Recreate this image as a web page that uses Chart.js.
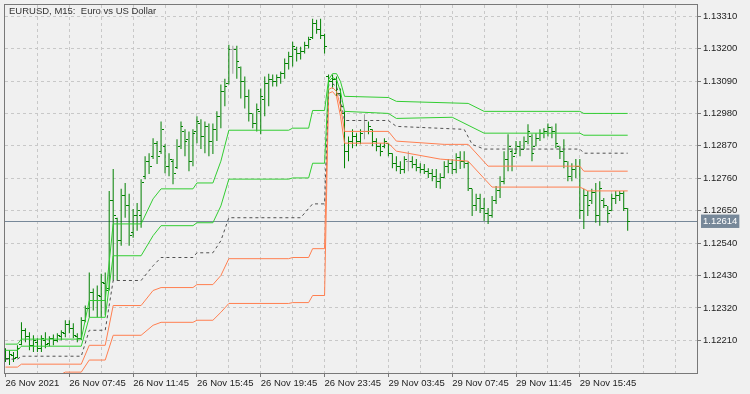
<!DOCTYPE html>
<html>
<head>
<meta charset="utf-8">
<script src="https://cdn.jsdelivr.net/npm/chart.js@4.4.1/dist/chart.umd.min.js"></script>
<style>
  html, body { margin: 0; padding: 0; background: #f0f0f0; }
  #chart { display: block; }
</style>
</head>
<body>
<canvas id="chart" width="750" height="394"></canvas>
<script>
// EURUSD M15, one bar per 15 minutes, bar 0 = 26 Nov 03:45
const chartTitle = "EURUSD, M15:  Euro vs US Dollar";

const opens = [
  1.12170, 1.12149, 1.12160, 1.12153, 1.12197, 1.12244, 1.12224, 1.12193, 1.12203, 1.12183,
  1.12210, 1.12200, 1.12217, 1.12210, 1.12224, 1.12234, 1.12264, 1.12251, 1.12224, 1.12217,
  1.12278, 1.12318, 1.12372, 1.12345, 1.12359, 1.12403, 1.12386, 1.12683, 1.12622, 1.12548,
  1.12700, 1.12666, 1.12575, 1.12632, 1.12632, 1.12767, 1.12818, 1.12835, 1.12879, 1.12852,
  1.12869, 1.12801, 1.12818, 1.12798, 1.12869, 1.12919, 1.12892, 1.12818, 1.12919, 1.12946,
  1.12902, 1.12936, 1.12886, 1.12926, 1.12970, 1.13054, 1.13081, 1.13196, 1.13196, 1.13135,
  1.13088, 1.13038, 1.12980, 1.12946, 1.12987, 1.13027, 1.13081, 1.13095, 1.13088, 1.13102,
  1.13115, 1.13149, 1.13173, 1.13196, 1.13183, 1.13189, 1.13210, 1.13237, 1.13284, 1.13264,
  1.13244, 1.13105, 1.13088, 1.13095, 1.13048, 1.12980, 1.12852, 1.12886, 1.12902, 1.12886,
  1.12919, 1.12919, 1.12926, 1.12886, 1.12869, 1.12869, 1.12879, 1.12845, 1.12811, 1.12801,
  1.12791, 1.12818, 1.12818, 1.12808, 1.12798, 1.12791, 1.12784, 1.12777, 1.12767, 1.12750,
  1.12764, 1.12801, 1.12811, 1.12791, 1.12832, 1.12818, 1.12811, 1.12724, 1.12666, 1.12690,
  1.12656, 1.12642, 1.12632, 1.12683, 1.12717, 1.12750, 1.12825, 1.12852, 1.12845, 1.12869,
  1.12859, 1.12886, 1.12902, 1.12869, 1.12896, 1.12913, 1.12919, 1.12933, 1.12919, 1.12869,
  1.12852, 1.12818, 1.12767, 1.12791, 1.12801, 1.12649, 1.12700, 1.12683, 1.12710, 1.12632,
  1.12683, 1.12666, 1.12649, 1.12690, 1.12700, 1.12707, 1.12656
];

const highs = [
  1.12183, 1.12176, 1.12170, 1.12193, 1.12271, 1.12251, 1.12237, 1.12227, 1.12217, 1.12227,
  1.12237, 1.12224, 1.12230, 1.12234, 1.12244, 1.12278, 1.12278, 1.12268, 1.12234, 1.12288,
  1.12328, 1.12440, 1.12386, 1.12396, 1.12436, 1.12440, 1.12717, 1.12791, 1.12626, 1.12724,
  1.12744, 1.12707, 1.12656, 1.12676, 1.12757, 1.12835, 1.12845, 1.12896, 1.12886, 1.12953,
  1.12875, 1.12845, 1.12825, 1.12892, 1.12953, 1.12926, 1.12919, 1.12926, 1.12970, 1.12960,
  1.12953, 1.12946, 1.12946, 1.12987, 1.13078, 1.13098, 1.13213, 1.13210, 1.13210, 1.13139,
  1.13105, 1.13061, 1.12980, 1.13014, 1.13065, 1.13105, 1.13115, 1.13112, 1.13112, 1.13122,
  1.13166, 1.13189, 1.13223, 1.13206, 1.13206, 1.13223, 1.13240, 1.13301, 1.13298, 1.13301,
  1.13250, 1.13112, 1.13112, 1.13105, 1.13065, 1.12987, 1.12902, 1.12926, 1.12913, 1.12926,
  1.12977, 1.12953, 1.12926, 1.12896, 1.12879, 1.12896, 1.12879, 1.12845, 1.12835, 1.12818,
  1.12835, 1.12852, 1.12835, 1.12825, 1.12811, 1.12808, 1.12794, 1.12791, 1.12791, 1.12777,
  1.12818, 1.12825, 1.12825, 1.12845, 1.12852, 1.12852, 1.12818, 1.12724, 1.12707, 1.12707,
  1.12693, 1.12659, 1.12700, 1.12734, 1.12767, 1.12852, 1.12909, 1.12862, 1.12886, 1.12886,
  1.12902, 1.12943, 1.12909, 1.12913, 1.12926, 1.12930, 1.12946, 1.12936, 1.12946, 1.12869,
  1.12892, 1.12818, 1.12811, 1.12825, 1.12825, 1.12724, 1.12717, 1.12724, 1.12744, 1.12750,
  1.12693, 1.12666, 1.12707, 1.12717, 1.12717, 1.12717, 1.12659
];

const lows = [
  1.12136, 1.12126, 1.12136, 1.12149, 1.12193, 1.12203, 1.12176, 1.12170, 1.12170, 1.12170,
  1.12183, 1.12190, 1.12193, 1.12203, 1.12210, 1.12220, 1.12234, 1.12217, 1.12203, 1.12210,
  1.12271, 1.12288, 1.12311, 1.12288, 1.12288, 1.12295, 1.12379, 1.12413, 1.12413, 1.12531,
  1.12626, 1.12531, 1.12558, 1.12582, 1.12592, 1.12757, 1.12774, 1.12825, 1.12808, 1.12842,
  1.12777, 1.12767, 1.12740, 1.12791, 1.12859, 1.12835, 1.12784, 1.12801, 1.12879, 1.12859,
  1.12845, 1.12835, 1.12842, 1.12886, 1.12930, 1.13004, 1.13078, 1.13115, 1.13098, 1.13031,
  1.12997, 1.12953, 1.12930, 1.12919, 1.12909, 1.12970, 1.13004, 1.13071, 1.13071, 1.13081,
  1.13098, 1.13129, 1.13139, 1.13156, 1.13163, 1.13183, 1.13200, 1.13233, 1.13250, 1.13233,
  1.13183, 1.13078, 1.13065, 1.13038, 1.12987, 1.12794, 1.12818, 1.12862, 1.12869, 1.12875,
  1.12892, 1.12909, 1.12869, 1.12852, 1.12835, 1.12862, 1.12835, 1.12794, 1.12784, 1.12774,
  1.12777, 1.12784, 1.12794, 1.12784, 1.12777, 1.12774, 1.12761, 1.12750, 1.12727, 1.12724,
  1.12761, 1.12777, 1.12774, 1.12777, 1.12791, 1.12794, 1.12717, 1.12632, 1.12649, 1.12642,
  1.12615, 1.12605, 1.12626, 1.12673, 1.12693, 1.12740, 1.12784, 1.12784, 1.12842, 1.12835,
  1.12859, 1.12875, 1.12818, 1.12869, 1.12886, 1.12896, 1.12902, 1.12896, 1.12862, 1.12825,
  1.12794, 1.12750, 1.12750, 1.12761, 1.12622, 1.12588, 1.12632, 1.12673, 1.12609, 1.12599,
  1.12659, 1.12609, 1.12649, 1.12673, 1.12683, 1.12649, 1.12582
];

const closes = [
  1.12149, 1.12163, 1.12149, 1.12183, 1.12244, 1.12224, 1.12193, 1.12210, 1.12183, 1.12217,
  1.12197, 1.12217, 1.12210, 1.12227, 1.12237, 1.12264, 1.12251, 1.12227, 1.12217, 1.12278,
  1.12318, 1.12372, 1.12345, 1.12362, 1.12406, 1.12379, 1.12683, 1.12632, 1.12548, 1.12700,
  1.12666, 1.12565, 1.12632, 1.12649, 1.12744, 1.12818, 1.12801, 1.12879, 1.12835, 1.12926,
  1.12801, 1.12825, 1.12777, 1.12869, 1.12936, 1.12886, 1.12818, 1.12913, 1.12953, 1.12902,
  1.12936, 1.12886, 1.12926, 1.12970, 1.13054, 1.13071, 1.13196, 1.13196, 1.13156, 1.13088,
  1.13038, 1.12980, 1.12946, 1.12994, 1.13038, 1.13081, 1.13095, 1.13088, 1.13102, 1.13115,
  1.13149, 1.13173, 1.13206, 1.13183, 1.13189, 1.13210, 1.13230, 1.13284, 1.13264, 1.13244,
  1.13206, 1.13088, 1.13095, 1.13048, 1.13004, 1.12852, 1.12886, 1.12902, 1.12886, 1.12913,
  1.12919, 1.12936, 1.12886, 1.12869, 1.12852, 1.12886, 1.12845, 1.12811, 1.12801, 1.12791,
  1.12825, 1.12818, 1.12808, 1.12798, 1.12791, 1.12784, 1.12777, 1.12767, 1.12750, 1.12764,
  1.12801, 1.12811, 1.12791, 1.12832, 1.12818, 1.12811, 1.12724, 1.12666, 1.12690, 1.12656,
  1.12642, 1.12632, 1.12683, 1.12717, 1.12750, 1.12825, 1.12869, 1.12835, 1.12869, 1.12859,
  1.12886, 1.12919, 1.12845, 1.12896, 1.12913, 1.12919, 1.12933, 1.12919, 1.12879, 1.12852,
  1.12818, 1.12767, 1.12791, 1.12801, 1.12649, 1.12700, 1.12666, 1.12710, 1.12632, 1.12724,
  1.12666, 1.12642, 1.12690, 1.12700, 1.12707, 1.12656, 1.12614
];

// bars drawn grey (open == close)
const dojiBars = [57, 90, 101];

// channel lines, [bar, price] at each corner of the line
const bandTop = [
  [0, 1.12197], [3, 1.12197], [4, 1.12214], [19, 1.12214], [21, 1.12345], [25, 1.12345],
  [27, 1.12605], [34, 1.12605], [37, 1.12690], [39, 1.12724], [47, 1.12724], [48, 1.12744],
  [52, 1.12744], [54, 1.12818], [56, 1.12923], [71, 1.12923], [72, 1.12930], [76, 1.12930],
  [77, 1.12990], [80, 1.12990], [81, 1.13095], [82, 1.13115], [83, 1.13115], [84, 1.13088],
  [85, 1.13038], [96, 1.13034], [98, 1.13021], [116, 1.13014], [120, 1.12987], [144, 1.12987],
  [145, 1.12980], [156, 1.12980]
];
const bandUpper = [
  [0, 1.12176], [3, 1.12176], [4, 1.12190], [19, 1.12190], [21, 1.12288], [25, 1.12288],
  [27, 1.12497], [34, 1.12497], [37, 1.12565], [39, 1.12599], [47, 1.12599], [48, 1.12609],
  [52, 1.12609], [54, 1.12666], [56, 1.12757], [71, 1.12757], [72, 1.12761], [76, 1.12761],
  [77, 1.12811], [80, 1.12811], [81, 1.13088], [82, 1.13102], [83, 1.13095], [84, 1.13054],
  [85, 1.12987], [96, 1.12980], [98, 1.12963], [112, 1.12967], [120, 1.12913], [144, 1.12913],
  [145, 1.12906], [156, 1.12906]
];
const bandMiddle = [
  [0, 1.12146], [3, 1.12146], [4, 1.12156], [19, 1.12156], [21, 1.12244], [25, 1.12244],
  [27, 1.12413], [34, 1.12413], [37, 1.12463], [39, 1.12491], [47, 1.12491], [48, 1.12507],
  [52, 1.12507], [54, 1.12548], [56, 1.12626], [74, 1.12626], [77, 1.12673], [80, 1.12673],
  [81, 1.13075], [82, 1.13081], [83, 1.13071], [84, 1.13027], [85, 1.12956], [96, 1.12956],
  [98, 1.12936], [115, 1.12926], [117, 1.12875], [120, 1.12859], [144, 1.12859],
  [145, 1.12845], [156, 1.12845]
];
const bandLower = [
  [0, 1.12119], [3, 1.12119], [4, 1.12129], [19, 1.12129], [21, 1.12193], [25, 1.12193],
  [27, 1.12328], [34, 1.12328], [37, 1.12379], [39, 1.12389], [47, 1.12389], [48, 1.12399],
  [52, 1.12399], [54, 1.12430], [56, 1.12487], [71, 1.12487], [72, 1.12491], [76, 1.12491],
  [77, 1.12521], [80, 1.12521], [81, 1.13061], [82, 1.13068], [83, 1.13054], [84, 1.13004],
  [85, 1.12919], [96, 1.12919], [98, 1.12886], [110, 1.12875], [116, 1.12875], [121, 1.12801],
  [144, 1.12801], [145, 1.12784], [156, 1.12784]
];
const bandBottom = [
  [0, 1.12075], [3, 1.12075], [4, 1.12089], [14, 1.12095], [15, 1.12102], [19, 1.12102],
  [21, 1.12143], [25, 1.12143], [27, 1.12227], [34, 1.12227], [37, 1.12261], [39, 1.12271],
  [47, 1.12271], [48, 1.12278], [52, 1.12278], [54, 1.12305], [56, 1.12335], [71, 1.12335],
  [72, 1.12338], [76, 1.12338], [77, 1.12362], [80, 1.12362], [81, 1.13048], [82, 1.13054],
  [83, 1.13038], [84, 1.12970], [85, 1.12879], [96, 1.12879], [98, 1.12852], [109, 1.12825],
  [116, 1.12818], [122, 1.12730], [144, 1.12730], [146, 1.12717], [156, 1.12717]
];

const lastPrice = 1.12614;

// one label every 16 bars (4 hours)
const xTickLabels = [
  "26 Nov 2021", "26 Nov 07:45", "26 Nov 11:45", "26 Nov 15:45", "26 Nov 19:45",
  "26 Nov 23:45", "29 Nov 03:45", "29 Nov 07:45", "29 Nov 11:45", "29 Nov 15:45"
];
const yTickValues = [
  1.12210, 1.12320, 1.12430, 1.12540, 1.12650, 1.12760, 1.12870, 1.12980, 1.13090, 1.13200, 1.13310
];

const FONT = { family: '"Liberation Sans", Arial, sans-serif', size: 9.5 };
const BAR_GREEN = "#008000";
const BAR_GREY = "#a0a0a0";

// little open / close ticks, used as point images
const tickImage = (color, left) => {
  const c = document.createElement("canvas");
  c.width = 5;
  c.height = 1;
  const g = c.getContext("2d");
  g.fillStyle = color;
  g.fillRect(left ? 0 : 3, 0, 2, 1);
  return c;
};
const openTick = { green: tickImage(BAR_GREEN, true), grey: tickImage(BAR_GREY, true) };
const closeTick = { green: tickImage(BAR_GREEN, false), grey: tickImage(BAR_GREY, false) };
const isDoji = (i) => dojiBars.includes(i);

const isPriceTick = (ctx) => ctx.tick && ctx.tick.value === lastPrice;
const xGridValues = [];
for (let v = 0; v <= 168; v += 8) xGridValues.push(v);
const hasLabel = (v) => v % 16 === 0 && v / 16 < xTickLabels.length;

const toPoints = (arr) => arr.map(([x, y]) => ({ x, y }));
const bandLine = (data, color, dash) => ({
  type: "line",
  data: toPoints(data),
  borderColor: color,
  borderWidth: 1,
  borderDash: dash || [],
  pointRadius: 0,
  fill: false,
  tension: 0,
  order: 0,
});

const framePlugin = {
  id: "frame",
  beforeDraw(chart) {
    chart.ctx.imageSmoothingEnabled = false;
  },
  afterDatasetsDraw(chart) {
    const { ctx, chartArea: a } = chart;
    ctx.save();
    ctx.strokeStyle = "#787878";
    ctx.lineWidth = 1;
    ctx.strokeRect(
      Math.round(a.left) - 0.5,
      Math.round(a.top) - 0.5,
      Math.round(a.right - a.left) + 1,
      Math.round(a.bottom - a.top) + 1
    );
    ctx.fillStyle = "#333";
    ctx.font = `${FONT.size}px ${FONT.family}`;
    ctx.textBaseline = "middle";
    ctx.fillText(chartTitle, a.left + 4, a.top + 6.5);
    ctx.restore();
  },
};

new Chart(document.getElementById("chart"), {
  type: "bar",
  data: {
    datasets: [
      bandLine(bandTop, "#32cd32"),
      bandLine(bandUpper, "#32cd32"),
      bandLine(bandMiddle, "#505050", [3, 3]),
      bandLine(bandLower, "#ff7f50"),
      bandLine(bandBottom, "#ff7f50"),
      {
        type: "bar",
        data: opens.map((o, i) => ({ x: i, y: [lows[i], highs[i]] })),
        backgroundColor: opens.map((o, i) => (isDoji(i) ? BAR_GREY : BAR_GREEN)),
        barThickness: 1,
        borderWidth: 0,
        inflateAmount: 0,
        order: 2,
      },
      {
        type: "line",
        showLine: false,
        data: opens.map((o, i) => ({ x: i, y: o })),
        pointStyle: (ctx) => (isDoji(ctx.dataIndex) ? openTick.grey : openTick.green),
        pointRadius: 2,
        order: 1,
      },
      {
        type: "line",
        showLine: false,
        data: closes.map((c, i) => ({ x: i, y: c })),
        pointStyle: (ctx) => (isDoji(ctx.dataIndex) ? closeTick.grey : closeTick.green),
        pointRadius: 2,
        order: 1,
      },
    ],
  },
  options: {
    responsive: false,
    devicePixelRatio: 1,
    animation: false,
    events: [],
    layout: { padding: { left: 3, top: 3, right: 0, bottom: 0 } },
    plugins: { legend: { display: false }, tooltip: { enabled: false } },
    scales: {
      x: {
        type: "linear",
        min: -0.125,
        max: 173.375,
        offset: false,
        afterBuildTicks: (s) => {
          s.ticks = xGridValues.map((v) => ({ value: v }));
        },
        afterFit: (s) => {
          s.height = 21;
          s.paddingLeft = 0;
          s.paddingRight = 0;
        },
        ticks: {
          autoSkip: false,
          maxRotation: 0,
          align: "start",
          padding: 1,
          color: "#222",
          font: FONT,
          callback: (v) => (hasLabel(v) ? xTickLabels[v / 16] : ""),
        },
        grid: {
          offset: false,
          color: (ctx) => (ctx.tick && ctx.tick.value === 0 ? "transparent" : "#c8c8c8"),
          tickLength: 4,
          tickColor: (ctx) => (ctx.tick && hasLabel(ctx.tick.value) ? "#787878" : "transparent"),
        },
        border: { display: false, dash: [3, 3] },
      },
      y: {
        position: "right",
        min: 1.12099,
        max: 1.13348,
        afterBuildTicks: (s) => {
          s.ticks = yTickValues.map((v) => ({ value: v })).concat([{ value: lastPrice }]);
        },
        afterFit: (s) => {
          s.width = 53;
          s.paddingTop = 0;
          s.paddingBottom = 0;
        },
        ticks: {
          autoSkip: false,
          padding: 2,
          font: FONT,
          color: (ctx) => (isPriceTick(ctx) ? "#ffffff" : "#222"),
          showLabelBackdrop: (ctx) => isPriceTick(ctx),
          backdropColor: "#778899",
          backdropPadding: { left: 2, right: 2, top: 1, bottom: 1 },
          callback: (v) => v.toFixed(5),
        },
        grid: {
          color: (ctx) => (isPriceTick(ctx) ? "#778899" : "#c8c8c8"),
          tickLength: 4,
          tickColor: (ctx) => (isPriceTick(ctx) ? "transparent" : "#787878"),
        },
        border: { display: false, dash: (ctx) => (isPriceTick(ctx) ? [] : [3, 3]) },
      },
    },
  },
  plugins: [framePlugin],
});
</script>
</body>
</html>
